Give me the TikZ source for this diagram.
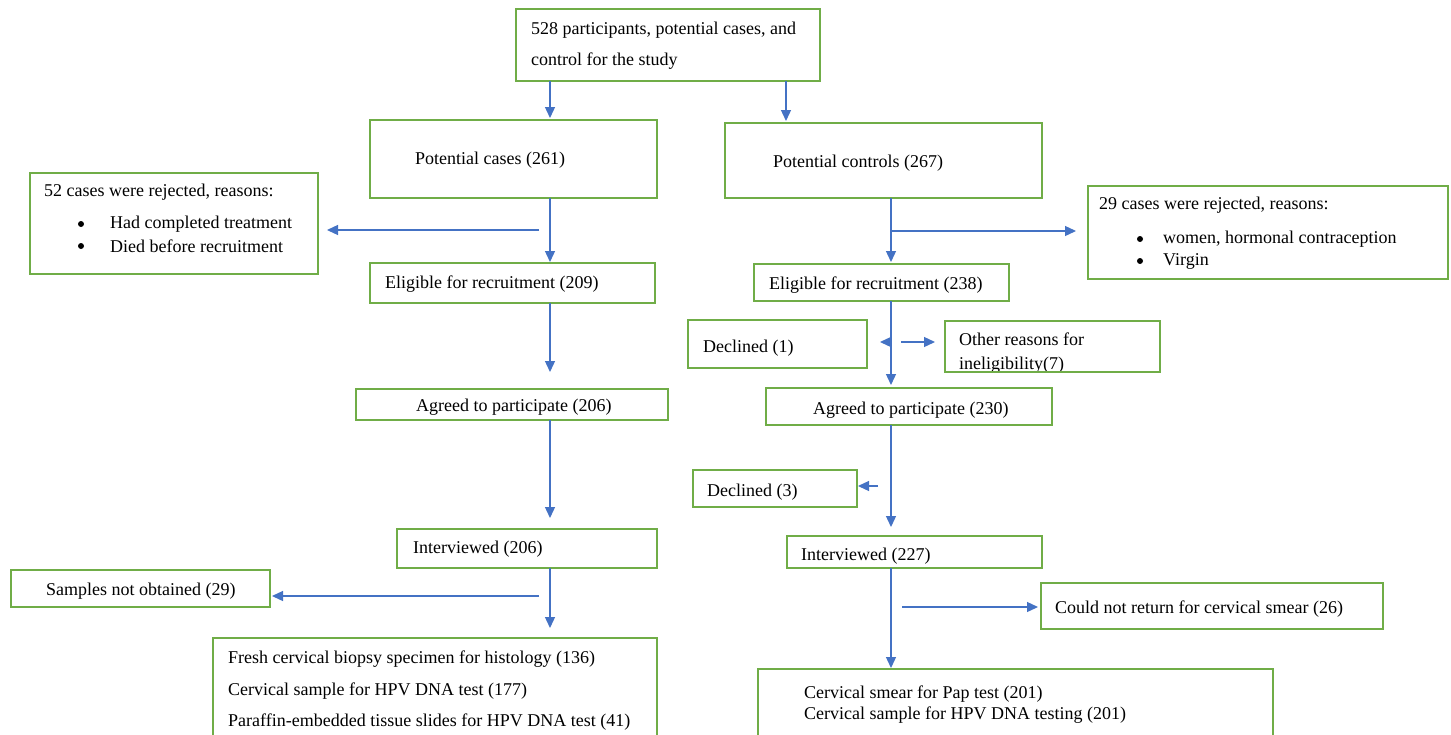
\documentclass[tikz,border=0pt]{standalone}
\usepackage{fontspec}
\setmainfont{Liberation Serif}
\usetikzlibrary{arrows.meta}
\definecolor{boxgreen}{HTML}{70AD47}
\definecolor{arrblue}{HTML}{4472C4}
\tikzset{
  box/.style={draw=boxgreen, line width=2pt, anchor=north west, inner sep=0pt, outer sep=0pt},
  txt/.style={anchor=base west, inner sep=0pt, font=\fontsize{18}{21}\selectfont},
  bul/.style={circle, fill=black, inner sep=0pt, minimum size=6pt},
  arr/.style={draw=arrblue, line width=1.3pt, -{Triangle[length=11pt,width=10pt]}},
}
\newcommand{\bx}[5]{\node[box, minimum width={#4-#2}, minimum height={#5-#3}] (#1) at (#2,#3) {};}
\begin{document}
\begin{tikzpicture}[x=1pt,y=-1pt]
\useasboundingbox (0,0) rectangle (1451,734);
\clip (0,0) rectangle (1451,734);
\fill[white] (0,0) rectangle (1451,734);
\coordinate (L) at (550,0);
\coordinate (R) at (891,0);
% boxes
\bx{top}{516}{9}{820}{81}
\bx{pc}{370}{120}{657}{198}
\bx{pcon}{725}{123}{1042}{198}
\bx{rej52}{30}{173}{318}{274}
\bx{el209}{370}{263}{655}{303}
\bx{rej29}{1088}{186}{1448}{279}
\bx{el238}{754}{264}{1009}{301}
\bx{dec1}{688}{320}{867}{368}
\begin{scope}
\clip (945,321) rectangle (1160,370);
\node[txt] (toth1) at (959,345) {Other reasons for};
\node[txt] (toth2) at (959,369) {ineligibility(7)};
\end{scope}
\bx{oth}{945}{321}{1160}{372}
\bx{ag206}{356}{389}{668}{420}
\bx{ag230}{766}{388}{1052}{425}
\bx{dec3}{693}{470}{857}{507}
\bx{int206}{397}{529}{657}{568}
\bx{int227}{787}{536}{1042}{568}
\bx{samp}{11}{570}{270}{607}
\bx{could}{1041}{583}{1383}{629}
\bx{botl}{213}{638}{657}{760}
\bx{botr}{758}{669}{1273}{760}
% texts
\node[txt] (t1a) at (531,34) {528 participants, potential cases, and};
\node[txt] (t1b) at (531,65) {control for the study};
\node[txt] (tpc) at (415,164) {Potential cases (261)};
\node[txt] (tpcon) at (773,167) {Potential controls (267)};
\node[txt] (tr52) at (44,196) {52 cases were rejected, reasons:};
\node[bul] (tr52b1) at (81,224) {};
\node[txt] (tr52a) at (110,228) {Had completed treatment};
\node[bul] (tr52b2) at (81,246) {};
\node[txt] (tr52c) at (110,252) {Died before recruitment};
\node[txt] (tel209) at (385,288) {Eligible for recruitment (209)};
\node[txt] (tr29) at (1099,209) {29 cases were rejected, reasons:};
\node[bul] (tr29b1) at (1140,239) {};
\node[txt] (tr29a) at (1163,243) {women, hormonal contraception};
\node[bul] (tr29b2) at (1140,261) {};
\node[txt] (tr29c) at (1163,265) {Virgin};
\node[txt] (tel238) at (769,289) {Eligible for recruitment (238)};
\node[txt] (tdec1) at (703,352) {Declined (1)};
\node[txt] (tag206) at (416,411) {Agreed to participate (206)};
\node[txt] (tag230) at (813,414) {Agreed to participate (230)};
\node[txt] (tdec3) at (707,496) {Declined (3)};
\node[txt] (tint206) at (413,553) {Interviewed (206)};
\node[txt] (tint227) at (801,560) {Interviewed (227)};
\node[txt] (tsamp) at (46,595) {Samples not obtained (29)};
\node[txt] (tcould) at (1055,613) {Could not return for cervical smear (26)};
\node[txt] (tbl1) at (228,663) {Fresh cervical biopsy specimen for histology (136)};
\node[txt] (tbl2) at (228,695) {Cervical sample for HPV DNA test (177)};
\node[txt] (tbl3) at (228,726) {Paraffin-embedded tissue slides for HPV DNA test (41)};
\node[txt] (tbr1) at (804,698) {Cervical smear for Pap test (201)};
\node[txt] (tbr2) at (804,719) {Cervical sample for HPV DNA testing (201)};
% free ends
\coordinate (b1) at (539,230);
\coordinate (b2) at (539,596);
\coordinate (b3) at (891,342);
\coordinate (b4) at (878,486);
\coordinate (b5) at (901,342);
\coordinate (b6) at (902,607);
\coordinate (b7) at (891,231);
\coordinate (T2) at (786,0);
% connectors
\draw[arr, shorten >=2pt] (top.south -| L) -- (pc.north -| L);
\draw[arr, shorten >=2pt] (top.south -| T2) -- (pcon.north -| T2);
\draw[arr, shorten >=1pt] (pc.south -| L) -- (el209.north -| L);
\draw[arr, shorten >=9pt] (b1) -- (b1 -| rej52.east);
\draw[arr, shorten >=17pt] (el209.south -| L) -- (ag206.north -| L);
\draw[arr, shorten >=11pt] (ag206.south -| L) -- (int206.north -| L);
\draw[arr, shorten >=2pt] (b2) -- (b2 -| samp.east);
\draw[arr, shorten >=10pt] (int206.south -| L) -- (botl.north -| L);
\draw[arr, shorten >=2pt] (pcon.south -| R) -- (el238.north -| R);
\draw[arr, shorten >=12pt] (b7) -- (b7 -| rej29.west);
\draw[arr, shorten >=3pt] (el238.south -| R) -- (ag230.north -| R);
\draw[arr, shorten >=13pt] (b3) -- (b3 -| dec1.east);
\draw[arr, shorten >=10pt] (b5) -- (b5 -| oth.west);
\draw[arr, shorten >=9pt] (ag230.south -| R) -- (int227.north -| R);
\draw[arr, shorten >=1pt] (b4) -- (b4 -| dec3.east);
\draw[arr, shorten >=1pt] (int227.south -| R) -- (botr.north -| R);
\draw[arr, shorten >=3pt] (b6) -- (b6 -| could.west);
\end{tikzpicture}
\end{document}
